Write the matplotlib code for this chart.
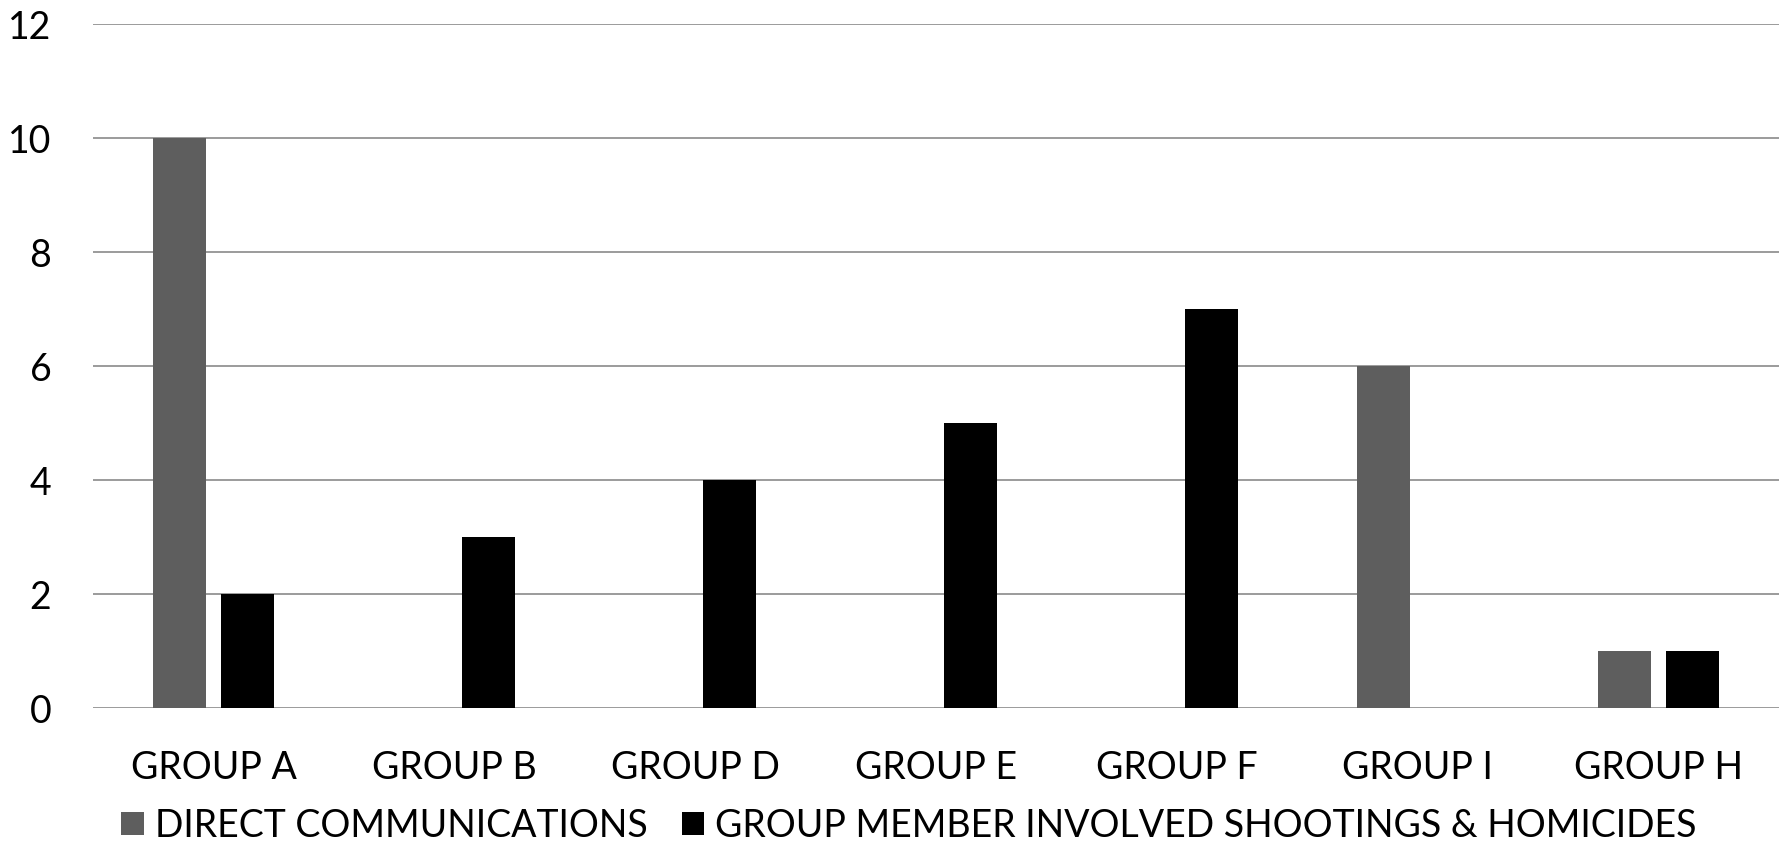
import matplotlib
matplotlib.use("Agg")
import matplotlib.pyplot as plt
import numpy as np

categories = ["GROUP A", "GROUP B", "GROUP D", "GROUP E", "GROUP F", "GROUP I", "GROUP H"]
direct = [10, 0, 0, 0, 0, 6, 1]
shootings = [2, 3, 4, 5, 7, 0, 1]
series_names = ["DIRECT COMMUNICATIONS", "GROUP MEMBER INVOLVED SHOOTINGS & HOMICIDES"]
yticks = [0, 2, 4, 6, 8, 10, 12]

plt.rcParams['font.family'] = ['Lato', 'DejaVu Sans']

fig = plt.figure(figsize=(17.79, 8.46), dpi=100)
ax = fig.add_axes([0.0523, 0.163, 0.9477, 0.8085])

x = np.arange(len(categories))
w = 0.22
off = 0.142
ax.bar(x - off, direct, w, color="#5e5e5e", zorder=3, label=series_names[0])
ax.bar(x + off, shootings, w, color="#000000", zorder=3, label=series_names[1])

ax.set_xlim(-0.5, len(categories) - 0.5)
ax.set_ylim(0, 12)
ax.set_yticks(yticks)
ax.set_xticks(x)
ax.set_xticklabels(categories)
ax.tick_params(axis='both', length=0, labelsize=27, colors='#000000')
ax.tick_params(axis='x', pad=30)
ax.tick_params(axis='y', pad=30)
ax.yaxis.grid(True, color="#8a8a8a", linewidth=1.2, zorder=0)
for s in ax.spines.values():
    s.set_visible(False)

fig.legend(loc='center', bbox_to_anchor=(0.511, 0.024), ncol=2, frameon=False,
           fontsize=27, handlelength=0.6, handleheight=0.6, handletextpad=0.3,
           columnspacing=0.9, borderpad=0)

fig.savefig("out.png", dpi=100, facecolor="white")
